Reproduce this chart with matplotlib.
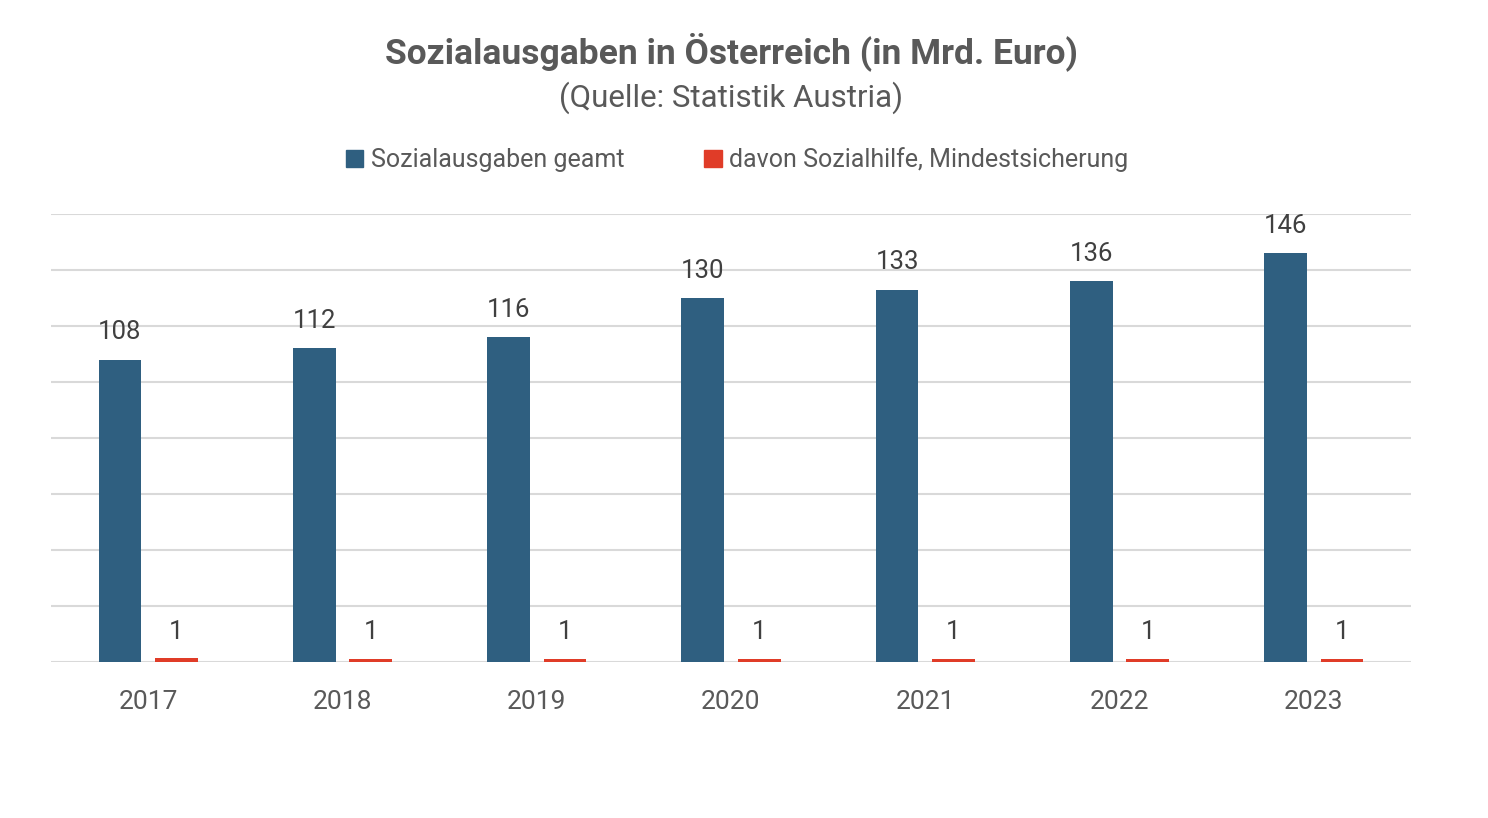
import numpy as np
import matplotlib.pyplot as plt
from matplotlib.patches import Patch

years = ["2017", "2018", "2019", "2020", "2021", "2022", "2023"]
gesamt = [108, 112, 116, 130, 133, 136, 146]
sozialhilfe = [1.3, 0.9, 0.9, 0.9, 1.2, 1.2, 1.2]

blue = "#2f5f80"
red = "#e03c28"
grey = "#595959"

plt.rcParams['font.family'] = ['Roboto', 'DejaVu Sans']

fig = plt.figure(figsize=(14.88, 8.18), dpi=100)
ax = fig.add_axes([51 / 1488, 1 - 662 / 818, (1411 - 51) / 1488, (662 - 214) / 818])

x = np.arange(len(years))
w = 0.22
off = 0.145
b1 = ax.bar(x - off, gesamt, w, color=blue, zorder=3)
b2 = ax.bar(x + off, sozialhilfe, w, color=red, zorder=3)

for rect, v in zip(b1, gesamt):
    ax.text(rect.get_x() + rect.get_width() / 2, v + 5.5, "%d" % v,
            ha='center', va='bottom', fontsize=18.5, color="#404040")
for rect, v in zip(b2, sozialhilfe):
    ax.text(rect.get_x() + rect.get_width() / 2, 6.3, "%d" % round(v),
            ha='center', va='bottom', fontsize=18.5, color="#404040")

ax.set_xlim(-0.5, len(years) - 0.5)
ax.set_ylim(0, 160)
ax.set_yticks(np.arange(0, 161, 20))
ax.set_yticklabels([])
ax.tick_params(axis='y', length=0)
ax.tick_params(axis='x', length=0, pad=20, labelsize=19, labelcolor=grey)
ax.set_xticks(x)
ax.set_xticklabels(years)
ax.grid(axis='y', color="#d9d9d9", linewidth=1.5, zorder=0)
for s in ax.spines.values():
    s.set_visible(False)

fig.text(731 / 1488, 1 - 52 / 818, "Sozialausgaben in Österreich (in Mrd. Euro)",
         ha='center', va='center', fontsize=25.5, fontweight='bold', color=grey)
fig.text(731 / 1488, 1 - 98 / 818, "(Quelle: Statistik Austria)",
         ha='center', va='center', fontsize=22.5, color=grey)

handles = [Patch(color=blue), Patch(color=red)]
fig.legend(handles, ["Sozialausgaben geamt", "davon Sozialhilfe, Mindestsicherung"],
           loc='center', bbox_to_anchor=(737 / 1488, 1 - 160 / 818), ncol=2,
           frameon=False, fontsize=18, labelcolor=grey, handlelength=0.7,
           handleheight=0.7, handletextpad=0.3, columnspacing=3.2)

fig.savefig("out.png", dpi=100)
